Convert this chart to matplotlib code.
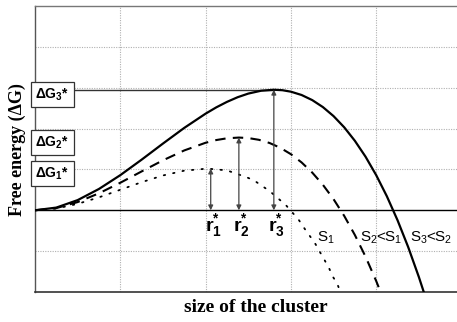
import matplotlib
matplotlib.use("Agg")
import matplotlib.pyplot as plt

plt.rcParams['mathtext.fontset'] = 'custom'
plt.rcParams['mathtext.rm'] = 'Liberation Sans'
plt.rcParams['mathtext.it'] = 'Liberation Sans:italic'
plt.rcParams['mathtext.bf'] = 'Liberation Sans:bold'

# Free-energy curves for three supersaturations (cluster size r, free energy dG)
r_s3 = [0.0, 0.25, 0.5, 0.75, 1.0, 1.25, 1.5, 1.75, 2.0, 2.125, 2.25, 2.375,
        2.5, 2.65, 2.8, 2.9, 3.0, 3.125, 3.25, 3.375, 3.5, 3.625, 3.75, 3.875,
        4.0, 4.125, 4.25, 4.375, 4.5, 4.6]
g_s3 = [0.0, 0.066, 0.249, 0.522, 0.860, 1.239, 1.633, 2.017, 2.365, 2.519,
        2.653, 2.767, 2.856, 2.926, 2.95, 2.939, 2.903, 2.822, 2.697, 2.526,
        2.305, 2.031, 1.700, 1.312, 0.860, 0.343, -0.243, -0.900, -1.632, -2.27]

r_s2 = [0.0, 0.25, 0.5, 0.75, 1.0, 1.25, 1.5, 1.75, 2.0, 2.125, 2.25, 2.39,
        2.5, 2.625, 2.75, 2.875, 3.0, 3.125, 3.25, 3.375, 3.5, 3.625, 3.75,
        3.875, 4.0, 4.1]
g_s2 = [0.0, 0.054, 0.201, 0.416, 0.674, 0.951, 1.223, 1.465, 1.653, 1.719,
        1.762, 1.78, 1.768, 1.725, 1.647, 1.530, 1.373, 1.172, 0.923, 0.624,
        0.272, -0.137, -0.605, -1.135, -1.731, -2.257]

r_s1 = [0.0, 0.25, 0.5, 0.75, 1.0, 1.25, 1.5, 1.75, 2.02, 2.25, 2.485, 2.567,
        2.755, 2.849, 2.943, 3.025, 3.095, 3.165, 3.282, 3.341, 3.388, 3.447,
        3.494, 3.540, 3.576, 3.62]
g_s1 = [0.0, 0.043, 0.157, 0.317, 0.502, 0.688, 0.852, 0.970, 1.02, 0.977,
        0.805, 0.732, 0.463, 0.293, 0.122, -0.073, -0.244, -0.463, -0.805,
        -1.024, -1.195, -1.415, -1.634, -1.780, -1.976, -2.15]

# Critical sizes and barriers
r_crit = [2.06, 2.39, 2.80]
g_crit = [1.02, 1.78, 2.95]
barrier_labels = [r'ΔG$_\mathbf{1}$*', r'ΔG$_\mathbf{2}$*', r'ΔG$_\mathbf{3}$*']
size_labels = [r'$\mathbf{r}_\mathbf{1}^\mathbf{*}$',
               r'$\mathbf{r}_\mathbf{2}^\mathbf{*}$',
               r'$\mathbf{r}_\mathbf{3}^\mathbf{*}$']
curve_labels = [r'S$_1$', r'S$_2$<S$_1$', r'S$_3$<S$_2$']
curve_label_x = [3.31, 3.81, 4.40]
curve_label_y = -0.68

W, H = 457, 322
fig = plt.figure(figsize=(W / 100, H / 100), dpi=100)
ax = fig.add_axes([35 / W, 1 - 292 / H, (461.5 - 35) / W, (292 - 6) / H])
ax.set_xlim(0, 5)
ax.set_ylim(-2, 5)

# grid
for gx in [1, 2, 3, 4]:
    ax.axvline(gx, color='#b0b0b0', lw=0.8, ls=(0, (1, 1.2)), zorder=0)
for gy in [-1, 1, 2, 3, 4]:
    ax.axhline(gy, color='#b0b0b0', lw=0.8, ls=(0, (1, 1.2)), zorder=0)
ax.axhline(0, color='black', lw=1.0, zorder=1)

ax.set_xticks([])
ax.set_yticks([])
ax.spines['right'].set_visible(False)
ax.spines['left'].set_color('#555555')
ax.spines['left'].set_linewidth(1.0)
ax.spines['top'].set_color('#777777')
ax.spines['top'].set_linewidth(1.0)
ax.spines['bottom'].set_color('#333333')
ax.spines['bottom'].set_linewidth(1.2)

ax.plot(r_s3, g_s3, color='black', lw=1.6, zorder=3)
ax.plot(r_s2, g_s2, color='black', lw=1.5, ls=(0, (5, 3.5)), zorder=3)
ax.plot(r_s1, g_s1, color='black', lw=1.3, ls=(0, (0.8, 4.5)),
        dash_capstyle='round', zorder=3)

# barrier level for the largest curve
ax.plot([0, r_crit[2]], [g_crit[2], g_crit[2]], color='#333333', lw=1.0, zorder=2)

for rc, gc, bl, sl in zip(r_crit, g_crit, barrier_labels, size_labels):
    ax.annotate('', xy=(rc, gc), xytext=(rc, 0),
                arrowprops=dict(arrowstyle='<|-|>', color='#444444', lw=0.9,
                                mutation_scale=7, shrinkA=0, shrinkB=0), zorder=4)
    ax.annotate(bl, xy=(0, gc), xytext=(12.5, -3.5), textcoords='offset points',
                ha='center', va='center', fontsize=10, fontweight='bold',
                family='Liberation Sans',
                bbox=dict(boxstyle='square,pad=0.3', fc='white', ec='#333333', lw=0.9),
                annotation_clip=False, zorder=5)
    ax.annotate(sl, xy=(rc, 0), xytext=(2, -11), textcoords='offset points',
                ha='center', va='center', fontsize=14, zorder=5)

for lx, lab in zip(curve_label_x, curve_labels):
    ax.text(lx, curve_label_y, lab, ha='left', va='center', fontsize=11,
            family='Liberation Sans', zorder=5)

fig.text(256 / W, 1 - 307 / H, 'size of the cluster', ha='center', va='center',
         fontsize=14, fontweight='bold', family='Liberation Serif')
fig.text(17 / W, 1 - 150 / H, 'Free energy (ΔG)', ha='center', va='center',
         rotation=90, fontsize=13, fontweight='bold', family='Liberation Serif')

fig.savefig('out.png', dpi=100)
